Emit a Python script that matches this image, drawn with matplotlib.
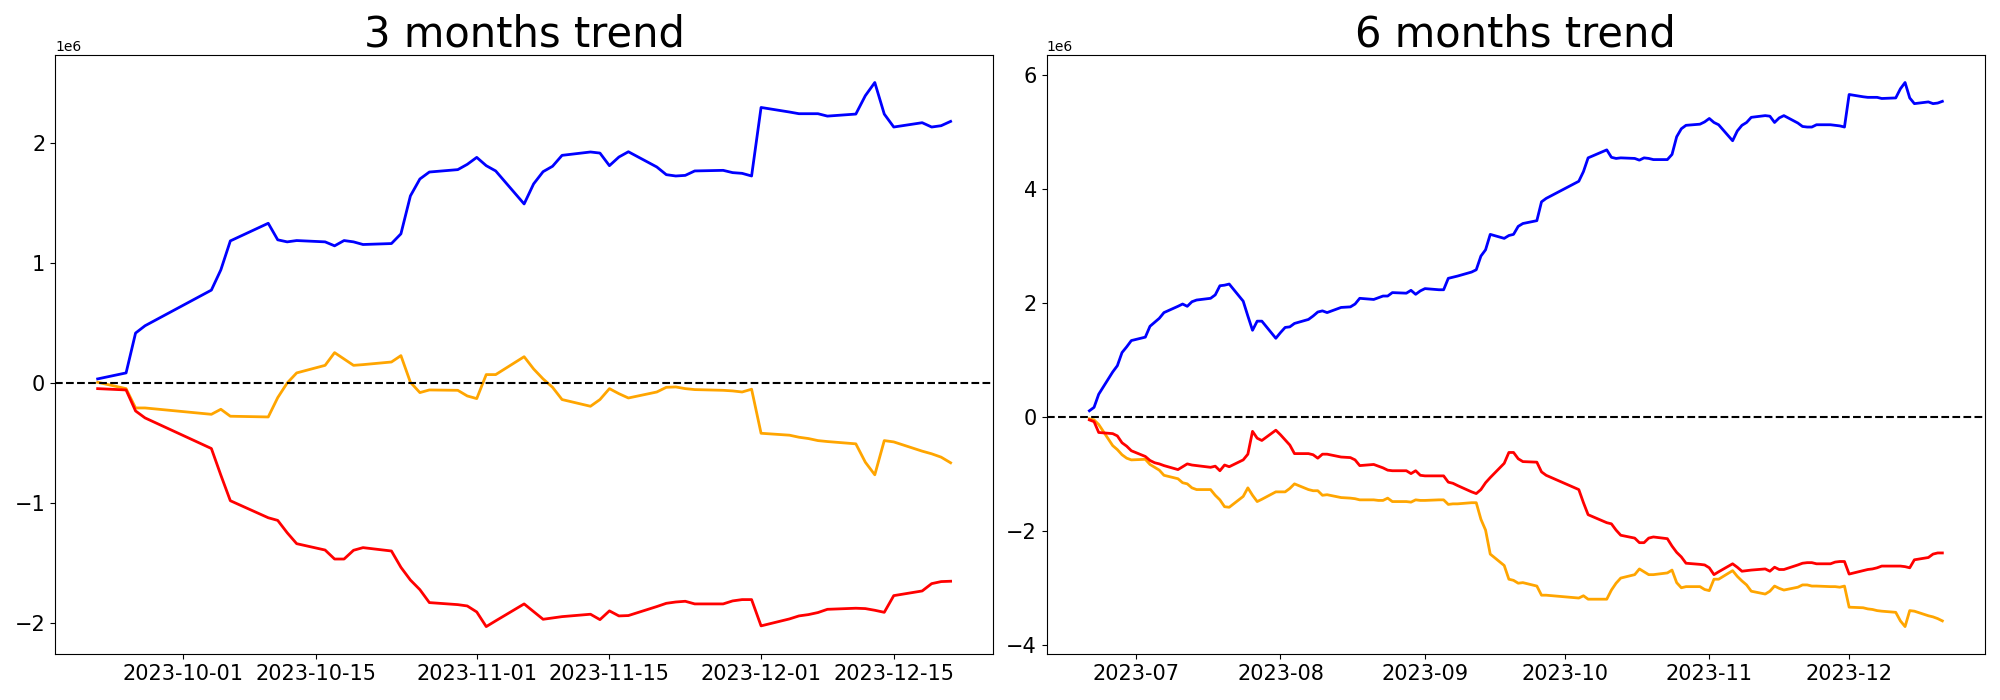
import numpy as np
import pandas as pd
import matplotlib
matplotlib.use("Agg")
import matplotlib.pyplot as plt

# trading days (KRX calendar), values in units of 1e6
krx_holidays = ["2023-08-15", "2023-09-28", "2023-09-29", "2023-10-02",
                "2023-10-03", "2023-10-09"]
dates_6m = pd.bdate_range("2023-06-21", "2023-12-21", freq="C", holidays=krx_holidays)
dates_3m = dates_6m[dates_6m >= "2023-09-22"]

# 3 months trend (from 2023-09-22)
blue_3m = [0.036, 0.086, 0.418, 0.479,
           0.776, 0.945, 1.186, 1.333, 1.195, 1.178, 1.189, 1.178, 1.145, 1.189, 1.178, 1.156,
           1.164, 1.245, 1.561, 1.702, 1.760, 1.780, 1.824,
           1.882, 1.813, 1.769, 1.494, 1.661, 1.763, 1.808, 1.899, 1.927, 1.918, 1.813, 1.885,
           1.929, 1.802, 1.738, 1.727, 1.732, 1.769, 1.774, 1.755, 1.749, 1.727,
           2.298, 2.260, 2.246, 2.246, 2.246, 2.226, 2.243, 2.396, 2.506, 2.243, 2.135, 2.171,
           2.135, 2.146, 2.182]
orange_3m = [0.008, -0.045, -0.206, -0.206,
             -0.259, -0.217, -0.275, -0.281, -0.120, 0.002, 0.086, 0.149, 0.255, 0.202, 0.149,
             0.155, 0.177, 0.230, 0.008, -0.078, -0.056, -0.059, -0.106,
             -0.128, 0.072, 0.072, 0.221, 0.119, 0.036, -0.034, -0.136, -0.192, -0.136, -0.045,
             -0.087, -0.123, -0.073, -0.034, -0.031, -0.045, -0.053, -0.059, -0.064, -0.073, -0.050,
             -0.417, -0.433, -0.450, -0.461, -0.478, -0.486, -0.505, -0.658, -0.763, -0.478,
             -0.489, -0.566, -0.588, -0.616, -0.663]
red_3m = [-0.045, -0.056, -0.231, -0.289,
          -0.544, -0.766, -0.979, -1.121, -1.143, -1.246, -1.337, -1.390, -1.465, -1.465, -1.392,
          -1.370, -1.398, -1.534, -1.640, -1.720, -1.828, -1.845, -1.856,
          -1.906, -2.028, -1.980, -1.839, -1.903, -1.967, -1.956, -1.945, -1.925, -1.970, -1.897,
          -1.939, -1.936, -1.861, -1.834, -1.823, -1.817, -1.839, -1.839, -1.814, -1.803, -1.803,
          -2.022, -1.964, -1.939, -1.928, -1.911, -1.884, -1.875, -1.878, -1.892, -1.909,
          -1.770, -1.731, -1.670, -1.653, -1.650]

# 6 months trend (from 2023-06-21)
blue_6m = [0.11, 0.17, 0.40, 0.79, 0.90, 1.13, 1.23, 1.34,
           1.40, 1.59, 1.66, 1.73, 1.83, 1.94, 1.98, 1.94, 2.02, 2.05, 2.08, 2.14, 2.30, 2.31,
           2.33, 2.03, 1.77, 1.52, 1.68, 1.68, 1.38,
           1.48, 1.57, 1.58, 1.64, 1.71, 1.77, 1.84, 1.86, 1.83, 1.92, 1.93, 1.98, 2.08, 2.06,
           2.09, 2.12, 2.12, 2.18, 2.17, 2.22, 2.15, 2.21,
           2.25, 2.23, 2.23, 2.43, 2.45, 2.47, 2.54, 2.58, 2.82, 2.93, 3.20, 3.13, 3.18, 3.20, 3.34,
           3.39, 3.44, 3.77, 3.83,
           4.13, 4.30, 4.54, 4.68, 4.55, 4.53, 4.54, 4.53, 4.50, 4.54, 4.53, 4.51, 4.51, 4.60,
           4.91, 5.05, 5.11, 5.13, 5.17,
           5.23, 5.16, 5.12, 4.84, 5.01, 5.11, 5.16, 5.25, 5.28, 5.27, 5.16, 5.24, 5.28, 5.15,
           5.09, 5.08, 5.08, 5.12, 5.12, 5.11, 5.10, 5.08,
           5.65, 5.61, 5.60, 5.60, 5.60, 5.58, 5.59, 5.75, 5.86, 5.59, 5.49, 5.52, 5.49, 5.50, 5.53]
orange_6m = [-0.03, -0.05, -0.13, -0.50, -0.57, -0.66, -0.72, -0.75,
             -0.74, -0.83, -0.88, -0.93, -1.02, -1.08, -1.15, -1.17, -1.24, -1.27, -1.27, -1.37,
             -1.45, -1.57, -1.58, -1.39, -1.24, -1.37, -1.48, -1.44, -1.31,
             -1.31, -1.31, -1.25, -1.17, -1.27, -1.29, -1.29, -1.37, -1.36, -1.41, -1.42, -1.43,
             -1.45, -1.45, -1.46, -1.46, -1.42, -1.48, -1.48, -1.49, -1.45, -1.46,
             -1.46, -1.45, -1.45, -1.53, -1.52, -1.52, -1.50, -1.50, -1.79, -1.98, -2.40, -2.60,
             -2.84, -2.86, -2.91,
             -2.90, -2.96, -3.12, -3.12,
             -3.17, -3.13, -3.19, -3.19, -3.03, -2.91, -2.82, -2.76, -2.66, -2.71, -2.76, -2.76,
             -2.73, -2.68, -2.90, -2.99, -2.97, -2.97, -3.02,
             -3.04, -2.84, -2.84, -2.69, -2.79, -2.87, -2.94, -3.05, -3.10, -3.05, -2.96, -3.00,
             -3.03, -2.98, -2.94, -2.94, -2.96, -2.96, -2.97, -2.97, -2.98, -2.96,
             -3.33, -3.34, -3.36, -3.37, -3.39, -3.40, -3.42, -3.57, -3.67, -3.39, -3.40, -3.48,
             -3.50, -3.53, -3.57]
red_6m = [-0.05, -0.08, -0.27, -0.29, -0.33, -0.45, -0.51, -0.59,
          -0.69, -0.76, -0.80, -0.82, -0.85, -0.92, -0.87, -0.82, -0.84, -0.85, -0.88, -0.86,
          -0.94, -0.84, -0.87, -0.75, -0.65, -0.25, -0.37, -0.41, -0.23,
          -0.31, -0.40, -0.49, -0.64, -0.64, -0.66, -0.72, -0.65, -0.65, -0.70, -0.71, -0.75,
          -0.85, -0.83, -0.86, -0.89, -0.93, -0.94, -0.94, -0.99, -0.94, -1.02,
          -1.03, -1.03, -1.03, -1.14, -1.16, -1.20, -1.31, -1.34, -1.27, -1.15, -1.06, -0.81,
          -0.62, -0.62, -0.73,
          -0.78, -0.79, -0.96, -1.02,
          -1.27, -1.50, -1.71, -1.85, -1.87, -1.98, -2.07, -2.12, -2.20, -2.20, -2.12, -2.10,
          -2.13, -2.26, -2.37, -2.45, -2.56, -2.58, -2.59,
          -2.64, -2.76, -2.71, -2.57, -2.63, -2.70, -2.69, -2.68, -2.66, -2.70, -2.63, -2.67,
          -2.67, -2.59, -2.56, -2.55, -2.55, -2.57, -2.57, -2.54, -2.53, -2.53,
          -2.75, -2.69, -2.67, -2.66, -2.64, -2.61, -2.61, -2.61, -2.62, -2.64, -2.50, -2.46,
          -2.40, -2.38, -2.38]

panels = [("3 months trend", dates_3m, blue_3m, orange_3m, red_3m),
          ("6 months trend", dates_6m, blue_6m, orange_6m, red_6m)]

fig, axes = plt.subplots(1, 2, figsize=(20, 7), dpi=100)
fig.subplots_adjust(left=0.0275, right=0.9925, bottom=0.066, top=0.921, wspace=0.057)

for ax, (title, dates, blue, orange, red) in zip(axes, panels):
    ax.plot(dates, np.array(blue) * 1e6, color="blue", linewidth=2)
    ax.plot(dates, np.array(orange) * 1e6, color="orange", linewidth=2)
    ax.plot(dates, np.array(red) * 1e6, color="red", linewidth=2)
    ax.axhline(0, color="black", linestyle="--", linewidth=1.5)
    ax.set_title(title, fontsize=30)
    ax.tick_params(labelsize=15)

fig.savefig("out.png", dpi=100)
